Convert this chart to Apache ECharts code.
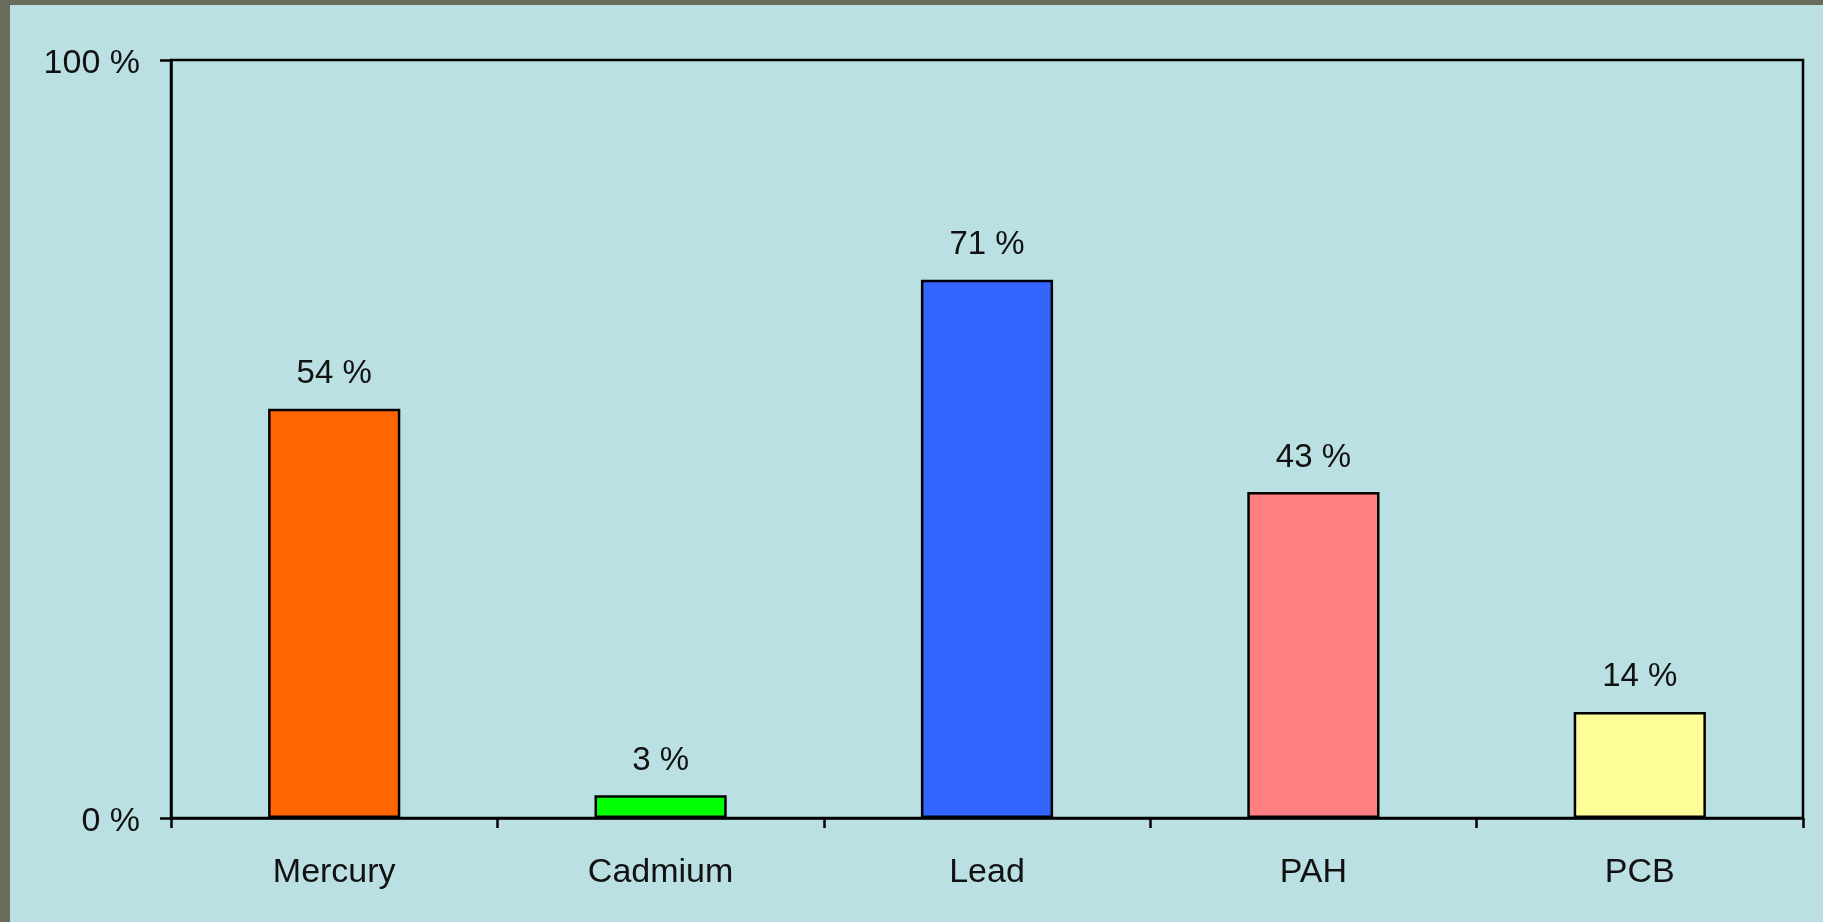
<!DOCTYPE html>
<html>
<head>
<meta charset="utf-8">
<script src="https://cdn.jsdelivr.net/npm/echarts@6/dist/echarts.min.js"></script>
<style>
  html, body { margin: 0; padding: 0; background: #6b6b5d; width: 1823px; height: 922px; overflow: hidden; }
  #chart { position: absolute; left: 10px; top: 5px; width: 1813px; height: 917px; background: #bae0e3; }
</style>
</head>
<body>
<div id="chart"></div>
<script>
// Share of each pollutant (percent)
const categories = ['Mercury', 'Cadmium', 'Lead', 'PAH', 'PCB'];
const shares = [54, 3, 71, 43, 14];
const barColors = ['#ff6600', '#00ff00', '#3366ff', '#ff8080', '#ffff99'];
const yTicks = [0, 100];

const font = '"Liberation Sans", Arial, sans-serif';
const chart = echarts.init(document.getElementById('chart'));

chart.setOption({
  animation: false,
  grid: {
    left: 161, right: 20, top: 55, bottom: 104,
    show: true, borderColor: '#000', borderWidth: 2.5, backgroundColor: 'transparent'
  },
  xAxis: {
    type: 'category',
    data: categories,
    axisLine: { lineStyle: { color: '#000', width: 2.5 } },
    axisTick: { show: true, length: 10, alignWithLabel: false, lineStyle: { color: '#000', width: 2.5 } },
    axisLabel: { color: '#111', fontSize: 34, fontFamily: font, margin: 38 },
    splitLine: { show: false }
  },
  yAxis: {
    type: 'value',
    min: yTicks[0],
    max: yTicks[yTicks.length - 1],
    interval: yTicks[1] - yTicks[0],
    axisLine: { show: true, lineStyle: { color: '#000', width: 2.5 } },
    axisTick: { show: true, length: 11, lineStyle: { color: '#000', width: 2.5 } },
    axisLabel: {
      color: '#111', fontSize: 34, fontFamily: font, margin: 31,
      formatter: v => '{v|' + v + ' %}',
      rich: { v: { color: '#111', fontSize: 34, fontFamily: font, padding: [8, 0, 0, 0] } }
    },
    splitLine: { show: false }
  },
  series: [{
    type: 'bar',
    barWidth: '40.5%',
    data: shares.map((v, i) => ({
      value: v,
      itemStyle: { color: barColors[i], borderColor: '#000', borderWidth: 2.5 }
    })),
    label: {
      show: true,
      position: 'top',
      distance: 18,
      color: '#111',
      fontSize: 33,
      fontFamily: font,
      formatter: '{c} %'
    }
  }]
});
</script>
</body>
</html>
